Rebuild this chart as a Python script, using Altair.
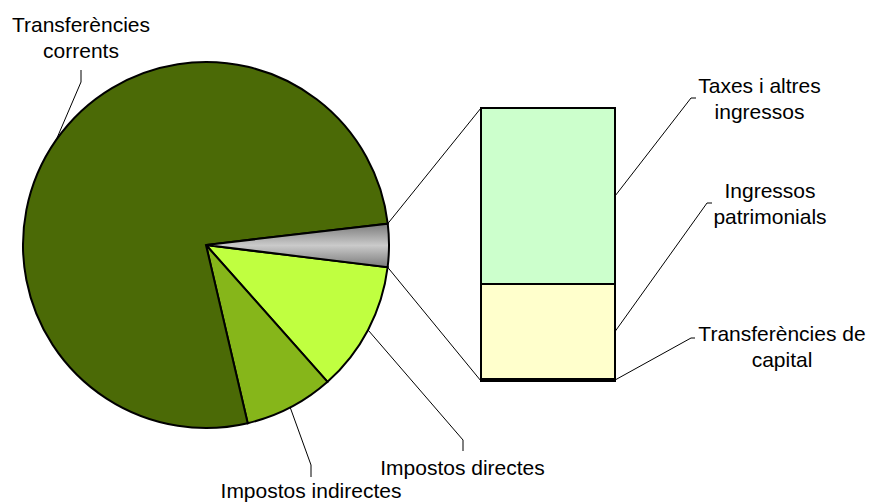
import math
import altair as alt
import pandas as pd

# ---------------- data ----------------
pie_labels = ["Altres", "Impostos directes", "Impostos indirectes", "Transferències corrents"]
pie_values = [3.8, 11.5, 7.9, 76.8]
pie_colors = ["#a0a0a0", "#c0ff40", "#86b61a", "#4b6a06"]

bar_labels = ["Transferències de capital", "Ingressos patrimonials", "Taxes i altres ingressos"]
bar_values = [0.7, 34.8, 64.5]
bar_colors = ["#000000", "#ffffcc", "#ccffcc"]

pie_text = {
    "Impostos directes": "Impostos directes",
    "Impostos indirectes": "Impostos indirectes",
    "Transferències corrents": "Transferències\ncorrents",
}
bar_text = {
    "Transferències de capital": "Transferències de\ncapital",
    "Ingressos patrimonials": "Ingressos\npatrimonials",
    "Taxes i altres ingressos": "Taxes i altres\ningressos",
}

# ---------------- layout ----------------
W, H = 860, 494
CX, CY, R = 198, 237, 183
A0 = math.radians(83.3)            # start angle of the first slice (0 = 12 o'clock, clockwise)
BX0, BX1, BYT, BYB = 473, 607, 100, 373
FONT, FS, LH = "Liberation Sans", 21, 26

# label anchor (centre x, first baseline y) and leader elbow/end points
pie_label_pos = {
    "Impostos directes": ((454.5, 467), [(455, 432), (455, 443)]),
    "Impostos indirectes": ((303, 490), [(303, 457), (303, 469)]),
    "Transferències corrents": ((73, 24), [(73, 74), (73, 62)]),
}
bar_label_pos = {
    "Taxes i altres ingressos": ((751.5, 85), [(683, 90), (688, 90)]),
    "Ingressos patrimonials": ((762, 190), [(699, 195), (704, 195)]),
    "Transferències de capital": ((774, 333), [(683, 330), (687, 330)]),
}

# ---------------- tables ----------------
starts, ends, c = [], [], 0.0
for v in pie_values:
    starts.append(c)
    c += v
    ends.append(c)
pie_df = pd.DataFrame({"label": pie_labels, "value": pie_values, "start": starts,
                       "end": ends, "idx": list(range(len(pie_labels)))})
bar_df = pd.DataFrame({"label": bar_labels, "value": bar_values,
                       "idx": list(range(len(bar_labels)))})

total = sum(pie_values)


def pie_point(pct):
    a = A0 + 2 * math.pi * pct / total
    return CX + R * math.sin(a), CY - R * math.cos(a)


def bar_y(pct):
    return BYB + (BYT - BYB) * pct / sum(bar_values)


lines, texts = [], []
lid = 0
# pie leaders
for lab, s, e in zip(pie_labels, starts, ends):
    if lab not in pie_label_pos:
        continue
    (tx, ty), pts = pie_label_pos[lab]
    p0 = pie_point((s + e) / 2)
    for k, (x, y) in enumerate([p0] + pts):
        lines.append({"id": lid, "ord": k, "x": x, "y": y})
    lid += 1
    texts.append({"text": pie_text[lab], "x": tx, "y": ty})
# bar leaders
cum = 0.0
for lab, v in zip(bar_labels, bar_values):
    (tx, ty), pts = bar_label_pos[lab]
    p0 = (BX1, bar_y(cum + v / 2))
    cum += v
    for k, (x, y) in enumerate([p0] + pts):
        lines.append({"id": lid, "ord": k, "x": x, "y": y})
    lid += 1
    texts.append({"text": bar_text[lab], "x": tx, "y": ty})
# connectors pie -> bar
gs, ge = starts[0], ends[0]
for pp, by in [(pie_point(gs), BYT), (pie_point(ge), BYB)]:
    lines.append({"id": lid, "ord": 0, "x": pp[0], "y": pp[1]})
    lines.append({"id": lid, "ord": 1, "x": BX0, "y": by})
    lid += 1

lines_df = pd.DataFrame(lines)
texts_df = pd.DataFrame(texts)

# ---------------- chart ----------------
theta_scale = alt.Scale(domain=[0, total], range=[A0, A0 + 2 * math.pi])

arc_base = alt.Chart(pie_df).encode(
    theta=alt.Theta("start:Q", stack=False, scale=theta_scale),
    theta2="end:Q",
    x=alt.value(CX),
    y=alt.value(CY),
)

pie_main = arc_base.transform_filter(alt.datum.idx > 0).mark_arc(
    outerRadius=R, stroke="black", strokeWidth=2
).encode(
    color=alt.Color("label:N", scale=alt.Scale(domain=pie_labels, range=pie_colors), legend=None)
)

grey_fill = {
    "gradient": "linear", "x1": 0, "y1": 0, "x2": 0, "y2": 1,
    "stops": [{"offset": 0, "color": "#7a7a7a"},
              {"offset": 0.5, "color": "#cacaca"},
              {"offset": 1, "color": "#7a7a7a"}],
}
pie_grey = arc_base.transform_filter(alt.datum.idx == 0).mark_arc(
    outerRadius=R, stroke="black", strokeWidth=2, fill=grey_fill
)

bar = alt.Chart(bar_df).transform_stack(
    stack="value", as_=["lo", "hi"], groupby=[], sort=[alt.SortField("idx", order="ascending")]
).mark_rect(stroke="black", strokeWidth=2).encode(
    x=alt.value(BX0),
    x2=alt.value(BX1),
    y=alt.Y("lo:Q", axis=None,
            scale=alt.Scale(domain=[0, sum(bar_values)], range=[BYB, BYT])),
    y2="hi:Q",
    fill=alt.Fill("label:N", scale=alt.Scale(domain=bar_labels, range=bar_colors), legend=None),
)

leaders = alt.Chart(lines_df).mark_line(color="black", strokeWidth=1).encode(
    x=alt.X("x:Q", scale=None, axis=None),
    y=alt.Y("y:Q", scale=None, axis=None),
    detail="id:N",
    order="ord:Q",
)

labels = alt.Chart(texts_df).mark_text(
    font=FONT, fontSize=FS, align="center", baseline="alphabetic",
    lineBreak="\n", lineHeight=LH, color="black"
).encode(
    x=alt.X("x:Q", scale=None, axis=None),
    y=alt.Y("y:Q", scale=None, axis=None),
    text="text:N",
)

chart = alt.layer(leaders, pie_main, pie_grey, bar, labels).resolve_scale(
    y="independent", fill="independent", color="independent"
).properties(
    width=W, height=H, padding=0,
    autosize=alt.AutoSizeParams(type="none"),
).configure_view(stroke=None)

chart.save("out.html", embed_options={"renderer": "svg", "actions": False})
